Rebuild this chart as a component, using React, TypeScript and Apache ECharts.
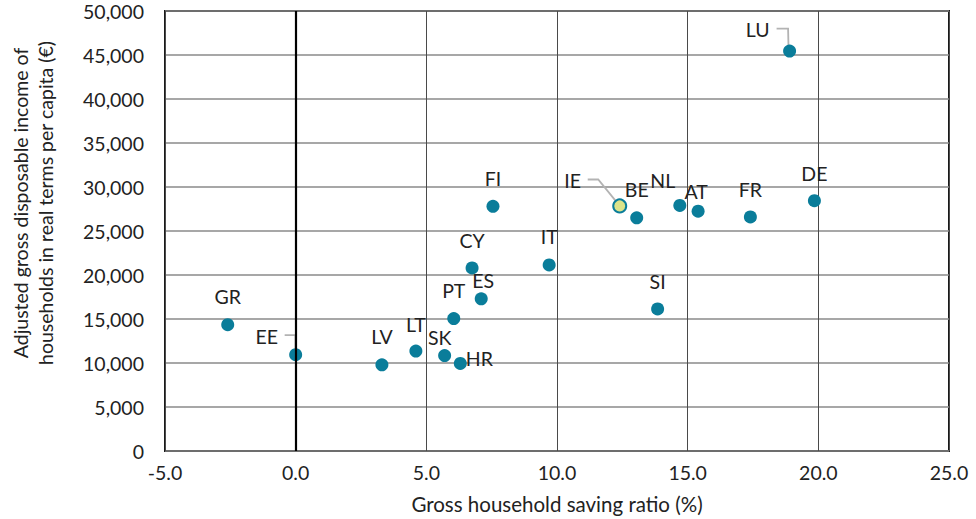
import React, { useEffect, useRef } from "react";
import * as echarts from "echarts";

// Data
const countries = ["LU", "DE", "FR", "AT", "NL", "BE", "IE", "FI", "CY", "IT", "ES", "PT", "SI", "GR", "EE", "LV", "LT", "SK", "HR"];
const savingRatio = [18.9, 19.85, 17.4, 15.4, 14.7, 13.05, 12.4, 7.55, 6.75, 9.7, 7.1, 6.05, 13.85, -2.6, 0.0, 3.3, 4.6, 5.7, 6.3];
const incomePerCapita = [45450, 28450, 26600, 27250, 27900, 26500, 27850, 27800, 20800, 21150, 17300, 15050, 16150, 14350, 10950, 9800, 11350, 10850, 9950];
const highlighted = ["IE"];
const leaderCountries = ["LU", "EE", "IE"];
const xTicks = { min: -5, max: 25, interval: 5 };
const yTicks = { min: 0, max: 50000, interval: 5000 };

// Layout / style (pixel offsets of labels from their dots)
const labelOffsets: Record<string, [number, number]> = {
  LU: [-32, -22], DE: [0, -27], FR: [0, -27], AT: [-2, -20], NL: [-17, -25],
  BE: [0, -28], IE: [-47, -25], FI: [0, -28], CY: [0, -27], IT: [0, -28],
  ES: [2, -18], PT: [0, -28], SI: [0, -27], GR: [0, -28], EE: [-29, -18],
  LV: [0, -28], LT: [0, -27], SK: [-5, -18], HR: [19, -5],
};
const leaderShapes: Record<string, [number, number][]> = {
  LU: [[-13, -22.4], [-1.5, -22.4], [-1, 0]],
  EE: [[-11, -19.6], [-0.3, -19.6], [-0.3, 0]],
  IE: [[-32, -26.4], [-21.5, -26.4], [0, 0]],
};

const FONT = "Lato, 'Open Sans', sans-serif";
const TEXT = "#222222";
const TEAL = "#0A7D9A";

export default function App() {
  const ref = useRef<HTMLDivElement>(null);
  useEffect(() => {
    if (!ref.current) return;
    const chart = echarts.init(ref.current, undefined, { renderer: "svg" });
    const scatterData = countries.map((c, i) => ({
      name: c,
      value: [savingRatio[i], incomePerCapita[i]],
      itemStyle: highlighted.includes(c)
        ? { color: "#DCE48A", borderColor: TEAL, borderWidth: 2, opacity: 1 }
        : { color: TEAL, opacity: 1 },
      label: { offset: labelOffsets[c] },
    }));
    const leaderData = leaderCountries.map((c) => {
      const i = countries.indexOf(c);
      return { name: c, value: [savingRatio[i], incomePerCapita[i]] };
    });
    chart.setOption({
      animation: false,
      grid: {
        left: 165,
        top: 11,
        right: 27,
        bottom: 68,
        show: true,
        borderColor: "#1a1a1a",
        borderWidth: 2,
        backgroundColor: "transparent",
      },
      xAxis: {
        type: "value",
        min: xTicks.min,
        max: xTicks.max,
        interval: xTicks.interval,
        axisLine: { show: false },
        axisTick: { show: false },
        axisLabel: {
          formatter: (v: number) => v.toFixed(1),
          color: TEXT,
          fontFamily: FONT,
          fontSize: 19.5,
          margin: 11,
        },
        splitLine: { show: true, lineStyle: { color: "#4a4a4a", width: 1 } },
        name: "Gross household saving ratio (%)",
        nameLocation: "middle",
        nameGap: 42,
        nameTextStyle: { color: TEXT, fontFamily: FONT, fontSize: 20.5 },
      },
      yAxis: {
        type: "value",
        min: yTicks.min,
        max: yTicks.max,
        interval: yTicks.interval,
        axisLine: { show: false, onZero: false },
        axisTick: { show: false },
        axisLabel: {
          formatter: (v: number) => v.toLocaleString("en-US"),
          color: TEXT,
          fontFamily: FONT,
          fontSize: 19.5,
          margin: 21,
        },
        splitLine: { show: true, lineStyle: { color: "#8a8a8a", width: 1.5 } },
      },
      graphic: [
        {
          type: "text",
          x: 33,
          y: 203,
          rotation: Math.PI / 2,
          style: {
            text: "Adjusted gross disposable income of\nhouseholds in real terms per capita (€)",
            textAlign: "center",
            textVerticalAlign: "middle",
            fill: TEXT,
            font: `19.5px ${FONT}`,
            lineHeight: 25,
          },
        },
      ],
      series: [
        {
          type: "custom",
          z: 1,
          silent: true,
          data: leaderData,
          renderItem: (params: any, api: any) => {
            const c = leaderCountries[params.dataIndex];
            const p = api.coord([api.value(0), api.value(1)]);
            const pts = leaderShapes[c].map(([dx, dy]) => [p[0] + dx, p[1] + dy]);
            return {
              type: "polyline",
              shape: { points: pts },
              style: { stroke: "#b3b3b3", lineWidth: 1.8, fill: "none" },
            };
          },
          markLine: {
            silent: true,
            symbol: "none",
            label: { show: false },
            lineStyle: { color: "#000", width: 2.2, type: "solid" },
            data: [{ xAxis: 0 }],
          },
        },
        {
          type: "scatter",
          z: 3,
          symbolSize: 13,
          data: scatterData,
          label: {
            show: true,
            position: "inside",
            formatter: "{b}",
            color: TEXT,
            fontFamily: FONT,
            fontSize: 19.5,
          },
        },
      ],
    });
    return () => chart.dispose();
  }, []);
  return (
    <div
      ref={ref}
      style={{ position: "absolute", left: 0, top: 0, width: 976, height: 519 }}
    />
  );
}
